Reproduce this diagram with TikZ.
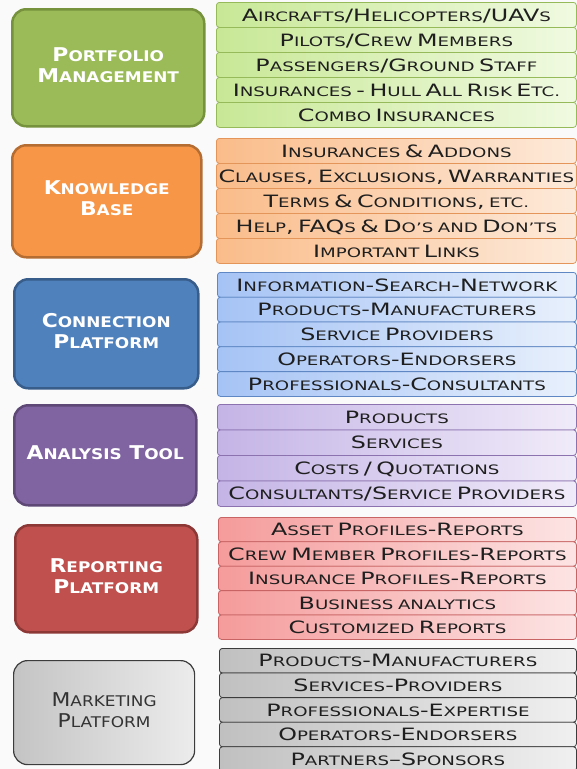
\documentclass[tikz,border=0pt]{standalone}
\usepackage{fontspec}
\setmainfont{DejaVu Sans}
\usepackage{graphicx}
\def\smsz{13}
\newcommand\sm[1]{{\fontsize{\smsz}{\smsz}\selectfont #1}}
\newcommand\listfont{\fontsize{17}{20}\selectfont\def\smsz{13}\spaceskip=3.2pt plus 0pt minus 0pt\relax}
\newcommand\lblfont{\bfseries\fontsize{19}{21}\selectfont\def\smsz{14.7}}
\newcommand\hstr[2]{\scalebox{#1}[1]{#2}}
\newcommand\lbl[1]{\hstr{1.15}{\begin{tabular}{@{}c@{}}#1\end{tabular}}}
\definecolor{bgc}{RGB}{250,250,251}
\definecolor{gF}{RGB}{155,187,89}\definecolor{gB}{RGB}{118,146,60}
\definecolor{gL}{RGB}{200,232,150}\definecolor{gR}{RGB}{240,250,225}\definecolor{gD}{RGB}{150,185,90}
\definecolor{oF}{RGB}{247,150,70}\definecolor{oB}{RGB}{182,109,49}
\definecolor{oL}{RGB}{250,188,138}\definecolor{oR}{RGB}{253,234,218}\definecolor{oD}{RGB}{228,150,90}
\definecolor{bF}{RGB}{79,129,189}\definecolor{bB}{RGB}{56,93,138}
\definecolor{bL}{RGB}{165,195,245}\definecolor{bR}{RGB}{232,240,252}\definecolor{bD}{RGB}{95,135,195}
\definecolor{pF}{RGB}{128,100,162}\definecolor{pB}{RGB}{93,72,118}
\definecolor{pL}{RGB}{196,180,230}\definecolor{pR}{RGB}{240,235,249}\definecolor{pD}{RGB}{140,115,175}
\definecolor{rF}{RGB}{192,80,77}\definecolor{rB}{RGB}{140,56,54}
\definecolor{rL}{RGB}{245,155,155}\definecolor{rR}{RGB}{253,228,228}\definecolor{rD}{RGB}{200,100,100}
\definecolor{kL}{RGB}{192,192,192}\definecolor{kR}{RGB}{240,240,240}\definecolor{kB}{RGB}{60,60,60}
\definecolor{mL}{RGB}{196,196,196}\definecolor{mR}{RGB}{236,236,236}
\tikzset{
  lbox/.style n args={3}{draw=#2, fill=#1, line width=2.5pt, rounded corners=14pt,
    anchor=north west, inner sep=0pt, text=#3, font=\lblfont},
  lrow/.style n args={3}{draw=#1, left color=#2, right color=#3, rounded corners=3pt,
    line width=0.8pt, anchor=north west, inner sep=0pt, text height=12.4pt,
    text depth=0pt, text=black!88, font=\listfont}
}
\begin{document}
\begin{tikzpicture}[x=1pt,y=-1pt]
\useasboundingbox (0,0) rectangle (577,769);
\fill[bgc] (0,0) rectangle (577,769);
% ---------- group 1
\node[lbox={gF}{gB}{white}, minimum width=192pt, minimum height=117pt] (pm) at (11,8)
  {\lbl{P\sm{ORTFOLIO}\\M\sm{ANAGEMENT}}};
\foreach \t [count=\i] in {A\sm{IRCRAFTS}/H\sm{ELICOPTERS}/UAV\sm{S},
  P\sm{ILOTS}/C\sm{REW} M\sm{EMBERS},
  P\sm{ASSENGERS}/G\sm{ROUND} S\sm{TAFF},
  I\sm{NSURANCES} - H\sm{ULL} A\sm{LL} R\sm{ISK} E\sm{TC.},
  C\sm{OMBO} I\sm{NSURANCES}}
  \node[lrow={gD}{gL}{gR}, minimum width=360pt, minimum height=25pt] (pm-\i)
    at (216,{2+(\i-1)*25}) {\hstr{1.4}{\t}};
% ---------- group 2
\node[lbox={oF}{oB}{white}, minimum width=189pt, minimum height=112pt] (kb) at (11,144)
  {\lbl{K\sm{NOWLEDGE}\\B\sm{ASE}}};
\foreach \t [count=\i] in {I\sm{NSURANCES} \& A\sm{DDONS},
  {C\sm{LAUSES}, E\sm{XCLUSIONS}, W\sm{ARRANTIES}},
  {T\sm{ERMS} \& C\sm{ONDITIONS}, \sm{ETC.}},
  {H\sm{ELP}, FAQ\sm{S} \& D\sm{O'S AND} D\sm{ON'TS}},
  I\sm{MPORTANT} L\sm{INKS}}
  \node[lrow={oD}{oL}{oR}, minimum width=360pt, minimum height=25pt] (kb-\i)
    at (216,{138+(\i-1)*25}) {\hstr{1.4}{\t}};
% ---------- group 3
\node[lbox={bF}{bB}{white}, minimum width=184pt, minimum height=109pt] (cp) at (13,278)
  {\lbl{C\sm{ONNECTION}\\P\sm{LATFORM}}};
\foreach \t [count=\i] in {I\sm{NFORMATION}-S\sm{EARCH}-N\sm{ETWORK},
  P\sm{RODUCTS}-M\sm{ANUFACTURERS},
  S\sm{ERVICE} P\sm{ROVIDERS},
  O\sm{PERATORS}-E\sm{NDORSERS},
  P\sm{ROFESSIONALS}-C\sm{ONSULTANTS}}
  \node[lrow={bD}{bL}{bR}, minimum width=359pt, minimum height=24.8pt] (cp-\i)
    at (217,{272+(\i-1)*24.8}) {\hstr{1.4}{\t}};
% ---------- group 4
\node[lbox={pF}{pB}{white}, minimum width=182pt, minimum height=100pt] (at) at (13,404)
  {\lbl{A\sm{NALYSIS} T\sm{OOL}}};
\foreach \t [count=\i] in {P\sm{RODUCTS},
  S\sm{ERVICES},
  C\sm{OSTS} / Q\sm{UOTATIONS},
  C\sm{ONSULTANTS}/S\sm{ERVICE} P\sm{ROVIDERS}}
  \node[lrow={pD}{pL}{pR}, minimum width=359pt, minimum height=25.5pt] (at-\i)
    at (217,{404+(\i-1)*25.5}) {\hstr{1.4}{\t}};
% ---------- group 5
\node[lbox={rF}{rB}{white}, minimum width=182pt, minimum height=107pt] (rp) at (14,524)
  {\lbl{R\sm{EPORTING}\\P\sm{LATFORM}}};
\foreach \t [count=\i] in {A\sm{SSET} P\sm{ROFILES}-R\sm{EPORTS},
  C\sm{REW} M\sm{EMBER} P\sm{ROFILES}-R\sm{EPORTS},
  I\sm{NSURANCE} P\sm{ROFILES}-R\sm{EPORTS},
  B\sm{USINESS ANALYTICS},
  C\sm{USTOMIZED} R\sm{EPORTS}}
  \node[lrow={rD}{rL}{rR}, minimum width=358pt, minimum height=24.4pt] (rp-\i)
    at (218,{517+(\i-1)*24.4}) {\hstr{1.4}{\t}};
% ---------- group 6
\node[lbox={mL}{kB}{black!80}, left color=mL, right color=mR, line width=1.2pt,
  minimum width=181pt, minimum height=104pt, font=\fontsize{19}{21}\selectfont\def\smsz{14.7}] (mp) at (13,660)
  {\lbl{M\sm{ARKETING}\\P\sm{LATFORM}}};
\foreach \t [count=\i] in {P\sm{RODUCTS}-M\sm{ANUFACTURERS},
  S\sm{ERVICES}-P\sm{ROVIDERS},
  P\sm{ROFESSIONALS}-E\sm{XPERTISE},
  O\sm{PERATORS}-E\sm{NDORSERS},
  P\sm{ARTNERS}--S\sm{PONSORS}}
  \node[lrow={kB}{kL}{kR}, minimum width=357pt, minimum height=24.6pt] (mp-\i)
    at (219,{648+(\i-1)*24.6}) {\hstr{1.4}{\t}};
\end{tikzpicture}
\end{document}
